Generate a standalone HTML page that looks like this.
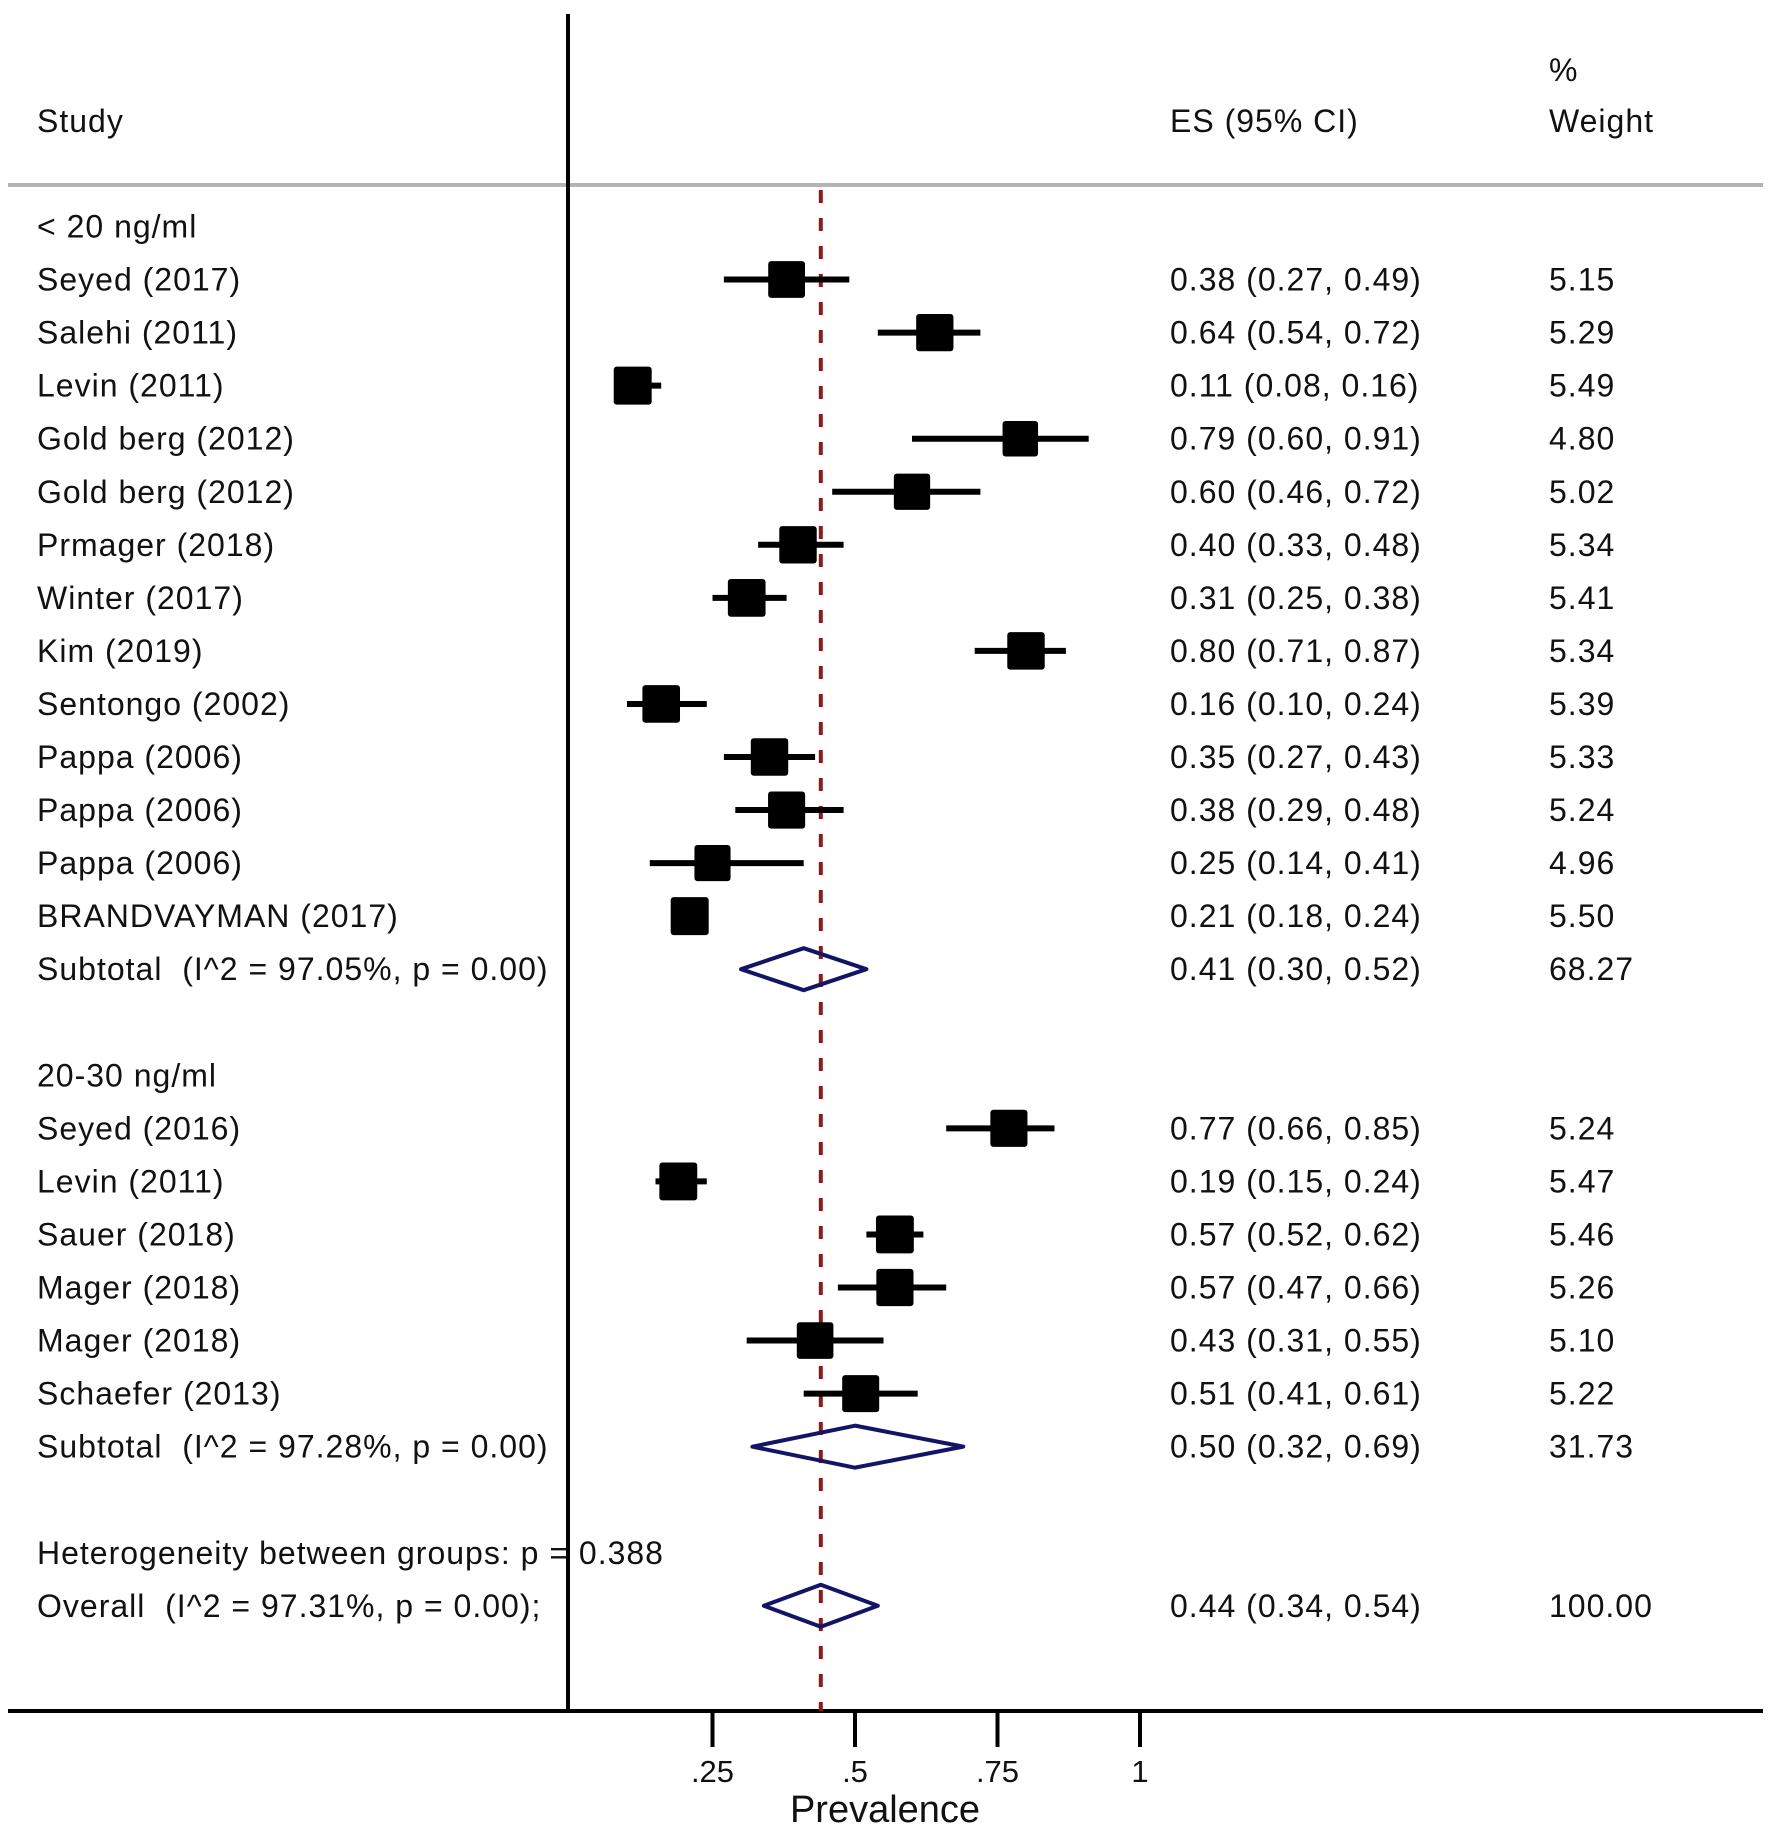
<!DOCTYPE html>
<html><head><meta charset="utf-8"><style>
html,body{margin:0;padding:0;background:#fff;}
svg{display:block;}
text{font-family:"Liberation Sans",Arial,sans-serif;fill:#111;white-space:pre;}
</style></head><body>
<svg id="plot" width="1772" height="1841" viewBox="0 0 1772 1841" xmlns="http://www.w3.org/2000/svg" xml:space="preserve">
<line x1="8" y1="185" x2="1763" y2="185" stroke="#b4b4b4" stroke-width="4"/>
<line x1="568" y1="14" x2="568" y2="1711" stroke="#000" stroke-width="4"/>
<line x1="8" y1="1711" x2="1763" y2="1711" stroke="#000" stroke-width="4"/>
<text x="37" y="132" font-size="32" letter-spacing="1">Study</text>
<text x="1170" y="132" font-size="32" letter-spacing="1">ES (95% CI)</text>
<text x="1549" y="81" font-size="32" letter-spacing="1">%</text>
<text x="1549" y="132" font-size="32" letter-spacing="1">Weight</text>
<text x="885" y="1822" font-size="38" text-anchor="middle">Prevalence</text>
<g id="marks"></g>
</svg>
<script>
const labels = ["< 20 ng/ml","Seyed (2017)","Salehi (2011)","Levin (2011)","Gold berg (2012)","Gold berg (2012)","Prmager (2018)","Winter (2017)","Kim (2019)","Sentongo (2002)","Pappa (2006)","Pappa (2006)","Pappa (2006)","BRANDVAYMAN (2017)","Subtotal  (I^2 = 97.05%, p = 0.00)","","20-30 ng/ml","Seyed (2016)","Levin (2011)","Sauer (2018)","Mager (2018)","Mager (2018)","Schaefer (2013)","Subtotal  (I^2 = 97.28%, p = 0.00)","","Heterogeneity between groups: p = 0.388","Overall  (I^2 = 97.31%, p = 0.00);"];
const kinds = ["h","s","s","s","s","s","s","s","s","s","s","s","s","s","d","","h","s","s","s","s","s","s","d","","t","d"];
const es = [null,0.38,0.64,0.11,0.79,0.60,0.40,0.31,0.80,0.16,0.35,0.38,0.25,0.21,0.41,null,null,0.77,0.19,0.57,0.57,0.43,0.51,0.50,null,null,0.44];
const lo = [null,0.27,0.54,0.08,0.60,0.46,0.33,0.25,0.71,0.10,0.27,0.29,0.14,0.18,0.30,null,null,0.66,0.15,0.52,0.47,0.31,0.41,0.32,null,null,0.34];
const hi = [null,0.49,0.72,0.16,0.91,0.72,0.48,0.38,0.87,0.24,0.43,0.48,0.41,0.24,0.52,null,null,0.85,0.24,0.62,0.66,0.55,0.61,0.69,null,null,0.54];
const weights = [null,5.15,5.29,5.49,4.80,5.02,5.34,5.41,5.34,5.39,5.33,5.24,4.96,5.50,68.27,null,null,5.24,5.47,5.46,5.26,5.10,5.22,31.73,null,null,100.00];
const ticks = [0.25,0.5,0.75,1];
const tickLabels = [".25",".5",".75","1"];
const overall = 0.44;

const NS="http://www.w3.org/2000/svg";
const g=document.getElementById('marks');
const xs=v=>570+570*v;
const ys=i=>226.5+i*53.05;
function mk(t,a){const e=document.createElementNS(NS,t);for(const k in a)e.setAttribute(k,a[k]);g.appendChild(e);return e;}

const ref=mk('line',{x1:xs(overall),y1:190,x2:xs(overall),y2:1711,stroke:'#8b1a1a','stroke-width':4,'stroke-dasharray':'13 15'});



labels.forEach((lab,i)=>{
  const y=ys(i);
  if(lab){
    const t=mk('text',{x:37,y:y+11,'font-size':32,'letter-spacing':1});
    t.textContent=lab;
    
    
  }
  if(es[i]==null) return;
  const k=kinds[i];
  if(k==='s'){
    const ci=mk('line',{x1:xs(lo[i]),y1:y,x2:xs(hi[i]),y2:y,stroke:'#000','stroke-width':6});
    
    
    const s=38*Math.sqrt(weights[i]/5.5);
    const r=mk('rect',{x:xs(es[i])-s/2,y:y-s/2,width:s,height:s,fill:'#000',rx:3});
    
    
  } else {
    const p=`${xs(lo[i])},${y} ${xs(es[i])},${y-21} ${xs(hi[i])},${y} ${xs(es[i])},${y+21}`;
    const d=mk('polygon',{points:p,fill:'none',stroke:'#141466','stroke-width':4,'stroke-linejoin':'round'});
    
    
  }
  const e=mk('text',{x:1170,y:y+11,'font-size':32,'letter-spacing':1});
  e.textContent=es[i].toFixed(2)+' ('+lo[i].toFixed(2)+', '+hi[i].toFixed(2)+')';
  
  
  const w=mk('text',{x:1549,y:y+11,'font-size':32,'letter-spacing':1});
  w.textContent=weights[i].toFixed(2);
  
  
});

ticks.forEach((v,i)=>{
  const tk=mk('line',{x1:xs(v),y1:1711,x2:xs(v),y2:1747,stroke:'#000','stroke-width':4});
  
  
  const tl=mk('text',{x:xs(v),y:1782,'font-size':31,'text-anchor':'middle'});
  tl.textContent=tickLabels[i];
  
  
});
</script>
</body></html>
